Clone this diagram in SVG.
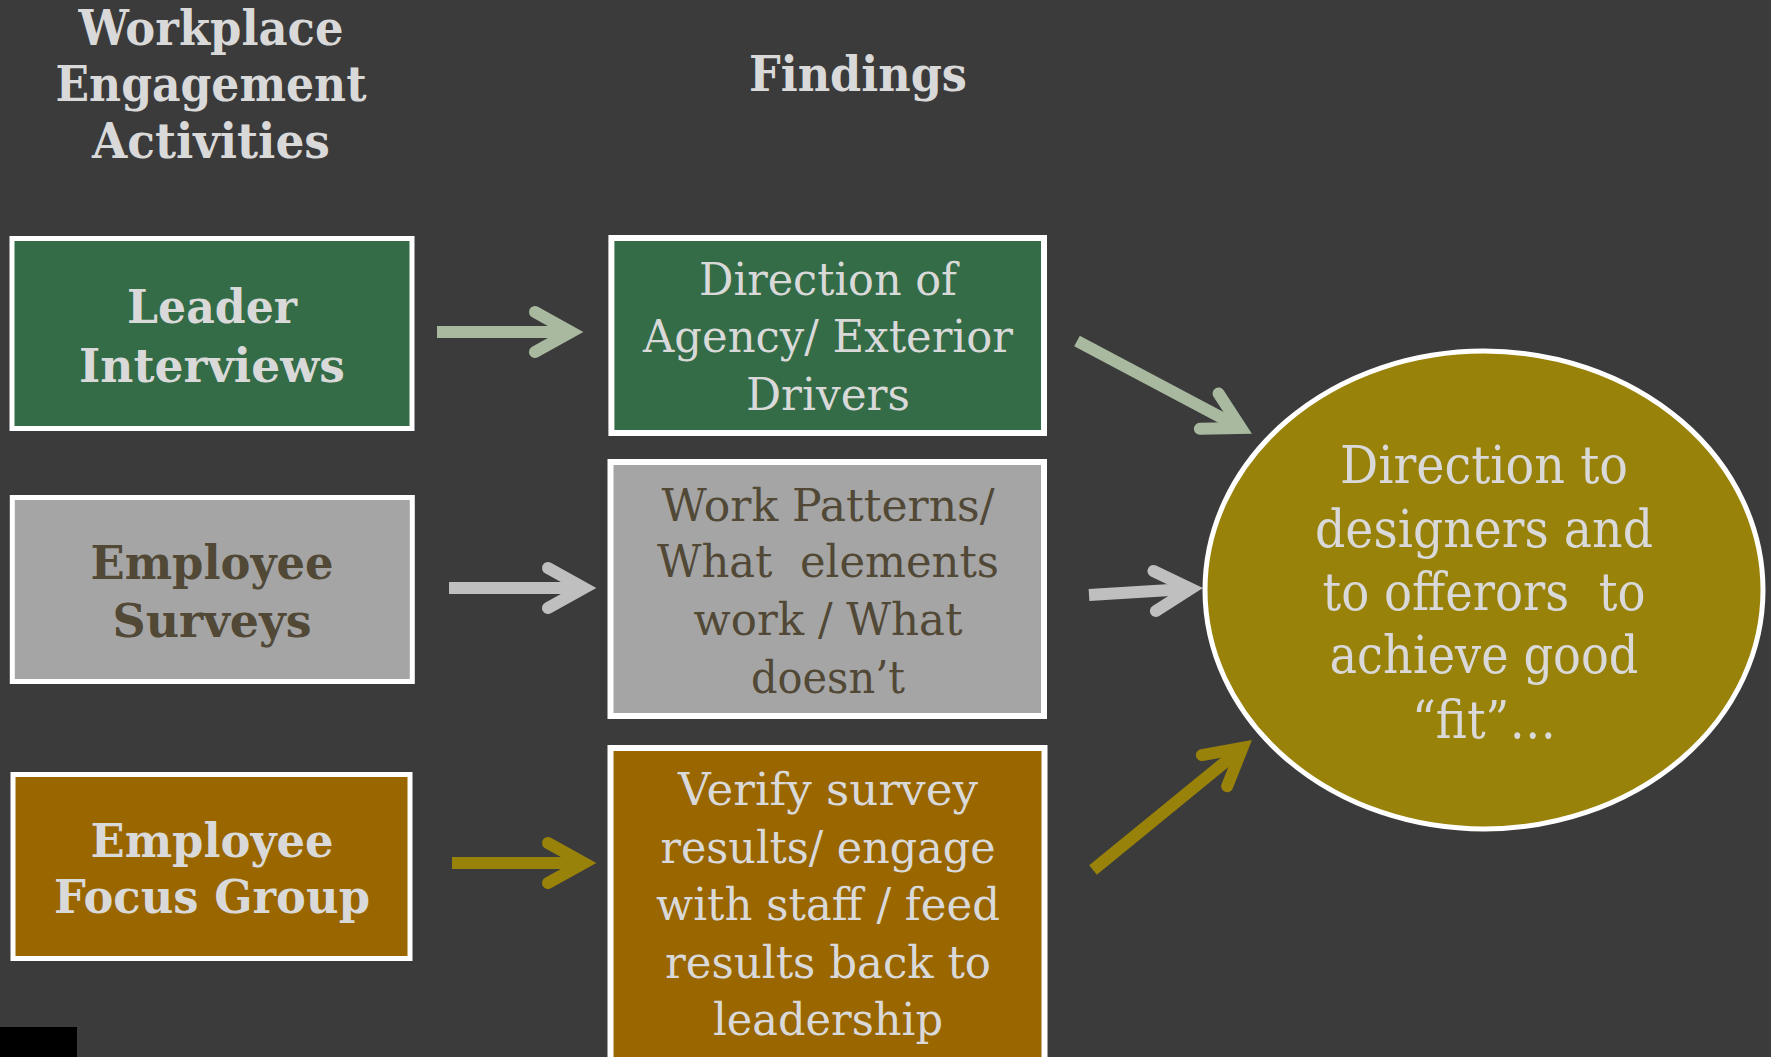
<svg xmlns="http://www.w3.org/2000/svg" width="1771" height="1057" viewBox="0 0 1771 1057">
<style>
text{font-family:"DejaVu Serif","Liberation Serif",serif;text-anchor:middle}
.hd{font-weight:bold;font-size:48px;fill:#d9d9d9}
.b{font-weight:bold;font-size:47px}
.r{font-size:45px}
.e{font-size:52px;fill:#d9d9d9}
.lt{fill:#d9d9d9}
.dk{fill:#514836}
.box{stroke:#ffffff}
.sh{fill:none;stroke-width:12;stroke-linecap:butt}
</style>
<defs>
<marker id="mSage" markerUnits="userSpaceOnUse" viewBox="-50 -30 70 60" markerWidth="70" markerHeight="60" refX="0" refY="0" orient="auto" overflow="visible">
<path d="M-36,-20 L0,0 L-36,20" fill="none" stroke="#a9b99f" stroke-width="12" stroke-linecap="round" stroke-linejoin="miter"/>
</marker>
<marker id="mGray" markerUnits="userSpaceOnUse" viewBox="-50 -30 70 60" markerWidth="70" markerHeight="60" refX="0" refY="0" orient="auto" overflow="visible">
<path d="M-36,-20 L0,0 L-36,20" fill="none" stroke="#bfbfbf" stroke-width="12" stroke-linecap="round" stroke-linejoin="miter"/>
</marker>
<marker id="mOlive" markerUnits="userSpaceOnUse" viewBox="-50 -30 70 60" markerWidth="70" markerHeight="60" refX="0" refY="0" orient="auto" overflow="visible">
<path d="M-36,-20 L0,0 L-36,20" fill="none" stroke="#998209" stroke-width="12" stroke-linecap="round" stroke-linejoin="miter"/>
</marker>
</defs>
<rect x="0" y="0" width="1771" height="1057" fill="#3b3b3b"/>
<g id="headers">
<text class="hd" x="211" y="45" textLength="265" lengthAdjust="spacingAndGlyphs">Workplace</text>
<text class="hd" x="211" y="101" textLength="311" lengthAdjust="spacingAndGlyphs">Engagement</text>
<text class="hd" x="211" y="158" textLength="238" lengthAdjust="spacingAndGlyphs">Activities</text>
<text class="hd" x="858" y="91" textLength="218" lengthAdjust="spacingAndGlyphs">Findings</text>
</g>
<g id="connectors">
<line class="sh" x1="437" y1="332" x2="571" y2="332" stroke="#a9b99f" marker-end="url(#mSage)"/>
<line class="sh" x1="449" y1="588" x2="584" y2="588" stroke="#bfbfbf" marker-end="url(#mGray)"/>
<line class="sh" x1="452" y1="863" x2="584" y2="863" stroke="#998209" marker-end="url(#mOlive)"/>
<line class="sh" x1="1077" y1="341" x2="1241" y2="428" stroke="#a9b99f" marker-end="url(#mSage)"/>
<line class="sh" x1="1089" y1="595" x2="1190.6" y2="588.8" stroke="#bfbfbf" marker-end="url(#mGray)"/>
<line class="sh" x1="1093" y1="870" x2="1242.4" y2="747.9" stroke="#998209" marker-end="url(#mOlive)"/>
</g>
<g id="leader-interviews">
<rect class="box" x="12" y="238.5" width="400" height="190" fill="#336c46" stroke-width="5"/>
<text class="b lt" x="212" y="323" textLength="170" lengthAdjust="spacingAndGlyphs">Leader</text>
<text class="b lt" x="212" y="382" textLength="266" lengthAdjust="spacingAndGlyphs">Interviews</text>
</g>
<g id="employee-surveys">
<rect class="box" x="12.3" y="497.5" width="400" height="184" fill="#a5a5a5" stroke-width="5"/>
<text class="b dk" x="212" y="579" textLength="243" lengthAdjust="spacingAndGlyphs">Employee</text>
<text class="b dk" x="212" y="637" textLength="199" lengthAdjust="spacingAndGlyphs">Surveys</text>
</g>
<g id="employee-focus-group">
<rect class="box" x="13" y="774.5" width="397" height="184" fill="#996600" stroke-width="5"/>
<text class="b lt" x="212" y="857" textLength="243" lengthAdjust="spacingAndGlyphs">Employee</text>
<text class="b lt" x="212" y="913" textLength="316" lengthAdjust="spacingAndGlyphs">Focus Group</text>
</g>
<g id="direction-of-agency">
<rect class="box" x="611.4" y="238" width="432.6" height="195" fill="#336c46" stroke-width="6"/>
<text class="r lt" x="828" y="295" textLength="258" lengthAdjust="spacingAndGlyphs">Direction of</text>
<text class="r lt" x="828" y="352" textLength="370" lengthAdjust="spacingAndGlyphs">Agency/ Exterior</text>
<text class="r lt" x="828" y="410" textLength="164" lengthAdjust="spacingAndGlyphs">Drivers</text>
</g>
<g id="work-patterns">
<rect class="box" x="610.5" y="462" width="433.5" height="254" fill="#a5a5a5" stroke-width="6"/>
<text class="r dk" x="828" y="521" textLength="333" lengthAdjust="spacingAndGlyphs">Work Patterns/</text>
<text class="r dk" x="828" y="577" textLength="342" lengthAdjust="spacingAndGlyphs" xml:space="preserve">What  elements</text>
<text class="r dk" x="828" y="635" textLength="269" lengthAdjust="spacingAndGlyphs">work / What</text>
<text class="r dk" x="828" y="693" textLength="154" lengthAdjust="spacingAndGlyphs">doesn’t</text>
</g>
<g id="verify-survey">
<rect class="box" x="610.5" y="748" width="434" height="330" fill="#996600" stroke-width="6"/>
<text class="r lt" x="828" y="805" textLength="300" lengthAdjust="spacingAndGlyphs">Verify survey</text>
<text class="r lt" x="828" y="863" textLength="335" lengthAdjust="spacingAndGlyphs">results/ engage</text>
<text class="r lt" x="828" y="920" textLength="344" lengthAdjust="spacingAndGlyphs">with staff / feed</text>
<text class="r lt" x="828" y="978" textLength="326" lengthAdjust="spacingAndGlyphs">results back to</text>
<text class="r lt" x="828" y="1035" textLength="230" lengthAdjust="spacingAndGlyphs">leadership</text>
</g>
<g id="direction-to-designers">
<ellipse cx="1484" cy="590" rx="279" ry="239" fill="#998209" stroke="#ffffff" stroke-width="5"/>
<text class="e" x="1484" y="483" textLength="288" lengthAdjust="spacingAndGlyphs">Direction to</text>
<text class="e" x="1484" y="547" textLength="338" lengthAdjust="spacingAndGlyphs">designers and</text>
<text class="e" x="1484" y="610" textLength="323" lengthAdjust="spacingAndGlyphs" xml:space="preserve">to offerors  to</text>
<text class="e" x="1484" y="673" textLength="309" lengthAdjust="spacingAndGlyphs">achieve good</text>
<text class="e" x="1484" y="738" textLength="144" lengthAdjust="spacingAndGlyphs">“fit”…</text>
</g>
<rect x="0" y="1027" width="77" height="30" fill="#000000"/>
</svg>
